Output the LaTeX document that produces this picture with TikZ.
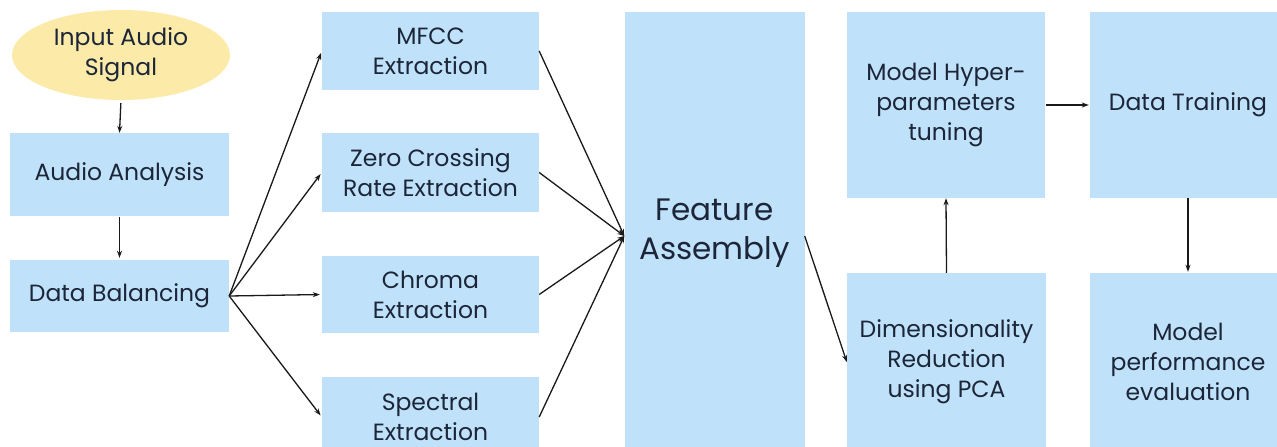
\documentclass[tikz,border=0pt]{standalone}
\usepackage{fontspec}
\setmainfont{Poppins}
\usetikzlibrary{shapes.geometric,arrows.meta}
\definecolor{boxblue}{RGB}{191,226,250}
\definecolor{ellyellow}{RGB}{251,234,168}
\definecolor{txt}{RGB}{28,38,56}
\tikzset{
  box/.style={rectangle, fill=boxblue, draw=none, inner sep=0pt, align=center,
    text=txt, font=\fontsize{23.5}{30}\selectfont},
  oval/.style={ellipse, fill=ellyellow, draw=none, inner sep=0pt, align=center,
    text=txt, font=\fontsize{23.5}{30}\selectfont},
  arr/.style={-{Stealth[length=7pt,width=5pt]}, line width=1.3pt, black!90}
}
\begin{document}
\begin{tikzpicture}[x=1pt,y=-1pt]
\useasboundingbox[fill=white] (0,0) rectangle (1277,447);
\node[oval, minimum width=218pt, minimum height=90pt] (inp) at (121,55) {Input Audio\\Signal};
\node[box, minimum width=219pt, minimum height=83pt] (aa) at (119.5,174.5) {Audio Analysis};
\node[box, minimum width=219pt, minimum height=72pt] (db) at (119.5,296) {Data Balancing};
\node[box, minimum width=217pt, minimum height=78pt] (mfcc) at (430.5,51) {MFCC\\Extraction};
\node[box, minimum width=217pt, minimum height=79pt] (zcr) at (430.5,172.5) {Zero Crossing\\Rate Extraction};
\node[box, minimum width=217pt, minimum height=77pt] (chr) at (430.5,294.5) {Chroma\\Extraction};
\node[box, minimum width=217pt, minimum height=80pt] (spc) at (430.5,417) {Spectral\\Extraction};
\node[box, minimum width=180pt, minimum height=442pt, font=\fontsize{31}{39}\selectfont] (fa) at (714.5,233) {Feature\\Assembly};
\node[box, minimum width=198pt, minimum height=186pt] (mh) at (946,105) {Model Hyper-\\parameters\\tuning};
\node[box, minimum width=196pt, minimum height=186pt] (dt) at (1188,105) {Data Training};
\node[box, minimum width=199pt, minimum height=178pt] (dr) at (946.5,362) {Dimensionality\\Reduction\\using PCA};
\node[box, minimum width=196pt, minimum height=178pt] (mp) at (1188,362) {Model\\performance\\evaluation};

\draw[arr, shorten <=3pt] (inp.south) -- (aa.north);
\draw[arr, shorten <=1pt, shorten >=2pt] (aa.south) -- (db.north);
\draw[arr, shorten >=2pt] (db.east) -- (mfcc.west);
\draw[arr, shorten >=2pt] (db.east) -- (zcr.west);
\draw[arr, shorten >=2pt] (db.east) -- (chr.west);
\draw[arr, shorten >=2pt] (db.east) -- (spc.west);
\coordinate (conv) at ([yshift=-3pt]fa.west);
\draw[arr] (mfcc.east) -- (conv);
\draw[arr] (zcr.east) -- (conv);
\draw[arr] (chr.east) -- (conv);
\draw[arr] (spc.east) -- (conv);
\draw[arr] ([yshift=-3pt]fa.east) -- (dr.west);
\draw[arr] (dr.north) -- (mh.south);
\draw[arr, shorten <=1pt, shorten >=1pt] (mh.east) -- (dt.west);
\draw[arr, shorten >=1pt] (dt.south) -- (mp.north);
\end{tikzpicture}
\end{document}
